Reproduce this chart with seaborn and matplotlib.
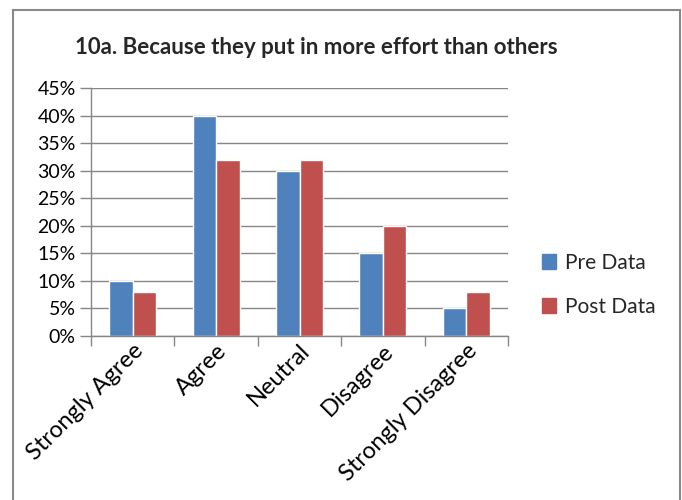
import pandas as pd
import matplotlib
matplotlib.use('Agg')
import matplotlib.pyplot as plt
import matplotlib.patches as mpatches
from matplotlib.ticker import FixedLocator, PercentFormatter
import seaborn as sns

categories = ["Strongly Agree", "Agree", "Neutral", "Disagree", "Strongly Disagree"]
pre_data = [10, 40, 30, 15, 5]
post_data = [8, 32, 32, 20, 8]
series_names = ["Pre Data", "Post Data"]
title = "10a. Because they put in more effort than others"

df = pd.DataFrame({
    "category": categories * 2,
    "value": pre_data + post_data,
    "series": [series_names[0]] * len(categories) + [series_names[1]] * len(categories),
})

sns.set_theme(style="white")
plt.rcParams['font.family'] = ['Lato', 'DejaVu Sans']

grid_col = "#868686"
fig = plt.figure(figsize=(6.82, 5.0), dpi=100)
ax = fig.add_axes([91 / 682, 164 / 500, 417 / 682, 248 / 500])

sns.barplot(data=df, x="category", y="value", hue="series",
            palette=["#4F81BD", "#C0504D"], width=0.565, gap=0,
            saturation=1, ax=ax, legend=False)

ax.set_ylim(0, 45)
ax.set_xlim(-0.5, len(categories) - 0.5)
ax.set_yticks(range(0, 50, 5))
ax.yaxis.set_major_formatter(PercentFormatter(decimals=0))
ax.yaxis.grid(True, color=grid_col, linewidth=1)
ax.set_axisbelow(True)
ax.set_xlabel("")
ax.set_ylabel("")

for s in ["top", "right"]:
    ax.spines[s].set_visible(False)
for s in ["left", "bottom"]:
    ax.spines[s].set_color(grid_col)
    ax.spines[s].set_linewidth(1)

ax.tick_params(axis="y", left=True, length=8, color=grid_col, width=1,
               labelsize=14, pad=3, labelcolor="black")
ax.tick_params(axis="x", which="major", bottom=False, length=0, labelsize=17,
               pad=3, labelcolor="black")
ax.xaxis.set_minor_locator(FixedLocator([i - 0.5 for i in range(len(categories) + 1)]))
ax.tick_params(axis="x", which="minor", bottom=True, length=7, color=grid_col, width=1)
for lbl in ax.get_xticklabels():
    lbl.set_rotation(45)
    lbl.set_ha("right")
    lbl.set_va("top")
    lbl.set_rotation_mode("anchor")

fig.text(75 / 682, 1 - 47 / 500, title, fontsize=16, fontweight="bold",
         ha="left", va="center")

handles = [mpatches.Patch(color=c, label=n) for c, n in zip(["#4F81BD", "#C0504D"], series_names)]
fig.legend(handles=handles, loc="center left", bbox_to_anchor=(523 / 682, 1 - 285 / 500),
           frameon=False, fontsize=15, handlelength=0.7, handleheight=0.7,
           handletextpad=0.4, labelspacing=1.15)

fig.patches.append(mpatches.Rectangle((13 / 682, -0.01), 667 / 682, 1 - 10 / 500 + 0.01,
                                      transform=fig.transFigure, fill=False,
                                      edgecolor="#898989", linewidth=1.5))

fig.savefig("out.png", dpi=100)
